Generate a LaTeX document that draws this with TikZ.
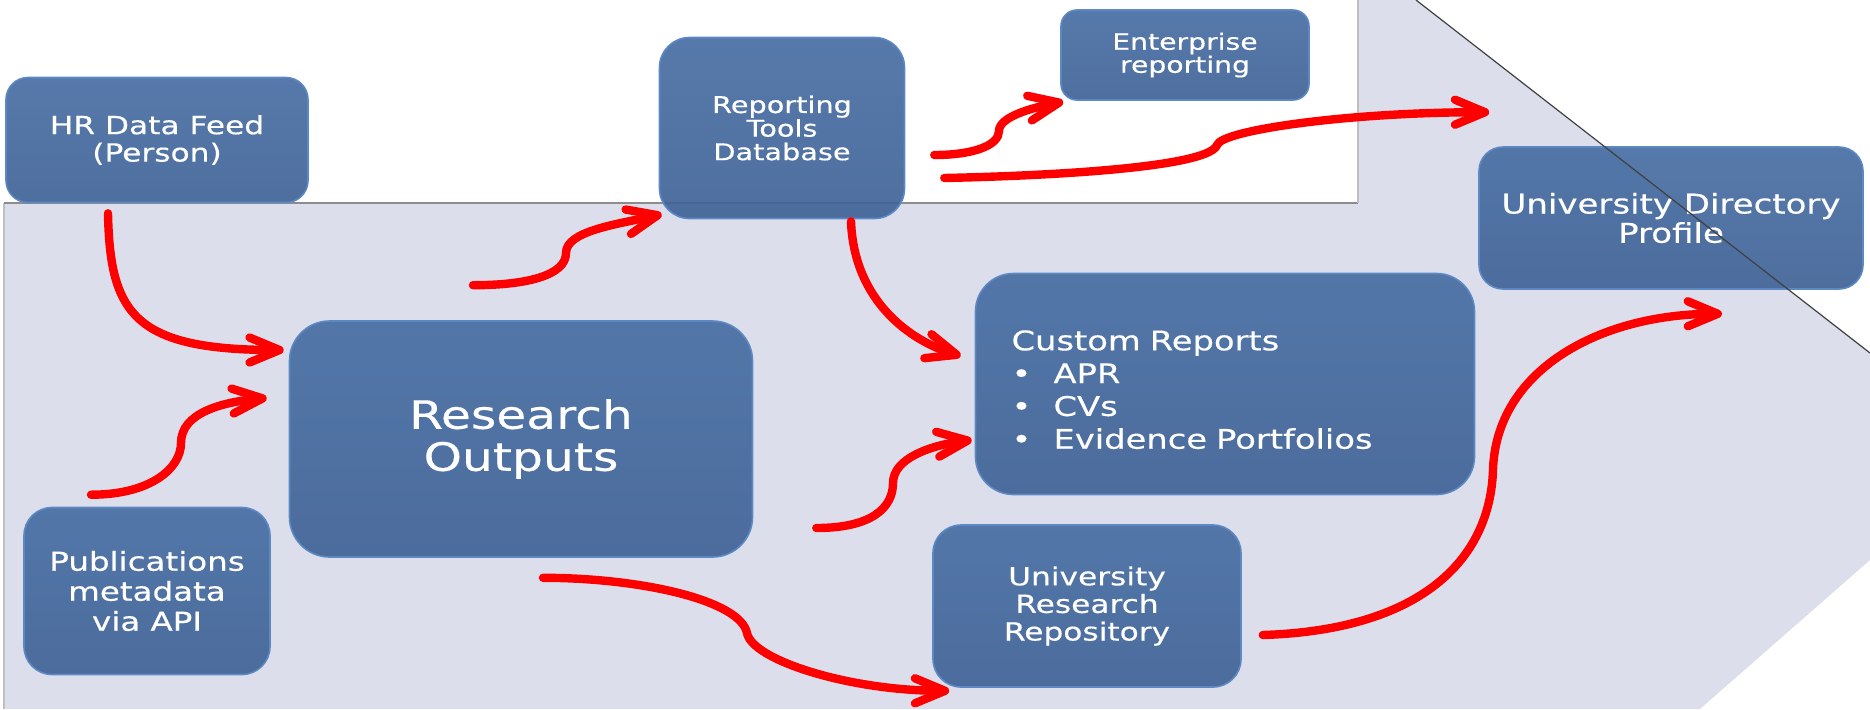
\documentclass[tikz,border=0pt]{standalone}
\usepackage{fontspec}
\setmainfont{DejaVu Sans}[FakeStretch=1.25, FakeBold=0.4]
\usepackage{xcolor}
\usepackage{tikz}
\usetikzlibrary{arrows.meta}

\definecolor{boxtop}{RGB}{72,110,164}
\definecolor{boxbot}{RGB}{63,99,150}
\definecolor{boxrim}{RGB}{92,136,196}
\definecolor{panel}{RGB}{220,223,235}
\definecolor{flowred}{RGB}{255,0,0}

\begin{document}
\begin{tikzpicture}[
  x=0.5pt, y=-0.5pt,
  box/.style={rectangle, rounded corners=12pt, draw=boxrim, line width=0.8pt, top color=boxtop, bottom color=boxbot, fill opacity=0.92, text opacity=1, text=white, align=center, inner sep=2pt},
  arrow/.style={line width=4.2pt, draw=flowred, line cap=round, -{Straight Barb[round, length=15pt, width=12.5pt]}}
]
\useasboundingbox (0,0) rectangle (1870,709);
\fill[panel] (4,203) -- (1358,203) -- (1358,0) -- (1416,0) -- (1870,353) -- (1870,560) -- (1700,709) -- (4,709) -- cycle;
\draw[black!25, line width=0.8pt] (4,709) -- (4,203);
\draw[black!45, line width=0.8pt] (4,203) -- (1358,203);
\draw[black!25, line width=0.8pt] (1358,203) -- (1358,0);

\node (hr) [box, minimum width=151pt, minimum height=62.5pt, rounded corners=11pt, font=\fontsize{12.5}{13.7}\selectfont] at (157,140) {HR Data Feed\\(Person)};
\node (pubs) [box, minimum width=123pt, minimum height=83.5pt, rounded corners=14pt, font=\fontsize{13}{15}\selectfont] at (147,591) {Publications\\metadata\\via API};
\node (research) [box, minimum width=231.5pt, minimum height=118pt, rounded corners=20pt, font=\fontsize{19.5}{21}\selectfont] at (521,439) {Research\\Outputs};
\node (reporting) [box, minimum width=122.5pt, minimum height=90.5pt, rounded corners=15pt, font=\fontsize{11.5}{11.8}\selectfont] at (782,128) {Reporting\\Tools\\Database};
\node (enterprise) [box, minimum width=124pt, minimum height=45pt, rounded corners=8pt, font=\fontsize{11.3}{11.5}\selectfont] at (1185,55) {Enterprise\\reporting};
\node (custom) [box, minimum width=249.5pt, minimum height=110.5pt, text width=213.5pt, inner xsep=18pt, align=left, rounded corners=19pt, font=\fontsize{13.5}{16.4}\selectfont] at (1225,384) {\rule{0pt}{15.7pt}Custom Reports\\
\makebox[21pt][l]{\textbullet}APR\\
\makebox[21pt][l]{\textbullet}CVs\\
\makebox[21pt][l]{\textbullet}Evidence Portfolios};
\node (repository) [box, minimum width=154pt, minimum height=81pt, rounded corners=14pt, font=\fontsize{12.5}{13.8}\selectfont] at (1087,606) {University\\Research\\Repository};
\node (directory) [box, minimum width=192pt, minimum height=71pt, rounded corners=12pt, font=\fontsize{13.6}{14.6}\selectfont] at (1671,218) {University Directory\\Profile};

\draw[black!75, line width=0.6pt] (1416,0) -- (1870,353);

\draw[arrow] ([shift={(-49,10)}]hr.south) .. controls +(2,100) and +(-150,0) .. ([shift={(-5,-89)}]research.west);
\draw[arrow] ([shift={(-56,-12)}]pubs.north) .. controls +(60,0) and +(0,25) .. (181,443) .. controls +(0,-30) and +(-45,4) .. ([shift={(-22,-41)}]research.west);
\draw[arrow] ([shift={(-48,-35)}]research.north) .. controls +(55,0) and +(0,22) .. (566,253) .. controls +(0,-22) and +(-45,10) .. ([shift={(3,-5)}]reporting.south west);
\draw[arrow] ([shift={(29,27)}]reporting.east) .. controls +(40,0) and +(0,14) .. (999,131) .. controls +(0,-14) and +(-32,6) .. ([shift={(3,1)}]enterprise.south west);
\draw[arrow] ([shift={(39,50)}]reporting.east) .. controls +(137,-3) and +(-7,20) .. (1217,145) .. controls +(5,-15) and +(-140,0) .. ([shift={(11,-34)}]directory.north west);
\draw[arrow] ([shift={(69,2)}]reporting.south) .. controls +(3,80) and +(-50,-15) .. ([shift={(-14,-28)}]custom.west);
\draw[arrow] ([shift={(63,89)}]research.east) .. controls +(55,0) and +(0,25) .. (893,483) .. controls +(0,-25) and +(-40,5) .. ([shift={(-3,56)}]custom.west);
\draw[arrow] ([shift={(22,20)}]research.south) .. controls +(97,0) and +(-7,-33) .. (747,633) .. controls +(5,27) and +(-100,0) .. ([shift={(17,3)}]repository.south west);
\draw[arrow] ([shift={(21,29)}]repository.east) .. controls +(158,-5) and +(-3,90) .. (1493,470) .. controls +(3,-100) and +(-122,0) .. ([shift={(51,24)}]directory.south);
\end{tikzpicture}
\end{document}
